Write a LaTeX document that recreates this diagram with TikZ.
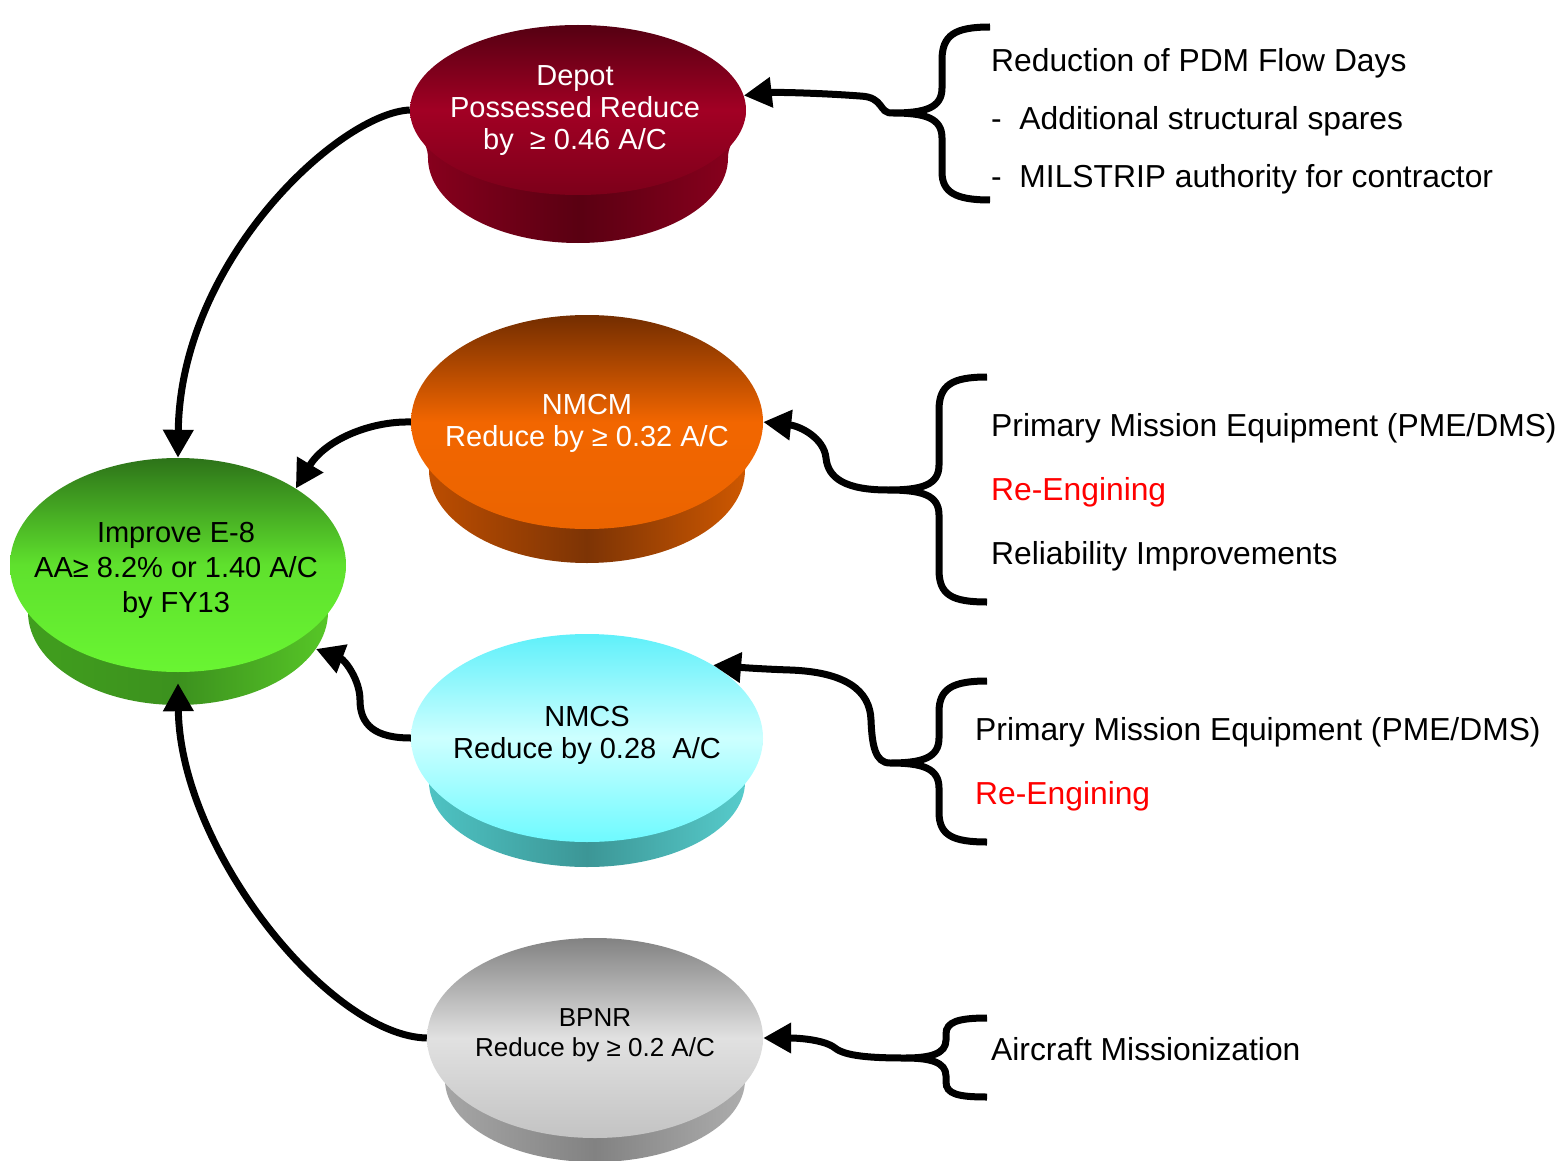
\documentclass[tikz,border=0pt]{standalone}
\usepackage{fontspec}
\setmainfont{Liberation Sans}
\usetikzlibrary{arrows.meta,shapes.geometric}
\definecolor{dtop}{RGB}{85,0,18}\definecolor{dmid}{RGB}{162,0,36}\definecolor{dbot}{RGB}{125,0,26}
\definecolor{dbl}{RGB}{140,0,30}\definecolor{dbm}{RGB}{90,0,18}
\definecolor{gtop}{RGB}{45,115,25}\definecolor{gmid}{RGB}{95,225,45}\definecolor{gbot}{RGB}{105,245,50}
\definecolor{gbl}{RGB}{65,160,30}\definecolor{gbm}{RGB}{60,145,30}\definecolor{gbr}{RGB}{90,205,40}
\definecolor{otop}{RGB}{115,45,0}\definecolor{omid}{RGB}{242,102,0}\definecolor{obot}{RGB}{235,100,0}
\definecolor{obl}{RGB}{195,80,0}\definecolor{obm}{RGB}{125,52,5}\definecolor{obr}{RGB}{215,92,0}
\definecolor{ctop}{RGB}{95,240,250}\definecolor{cmid}{RGB}{205,255,255}\definecolor{cbot}{RGB}{110,250,255}
\definecolor{cbl}{RGB}{80,200,200}\definecolor{cbm}{RGB}{60,150,150}\definecolor{cbr}{RGB}{90,210,210}
\definecolor{ktop}{RGB}{130,130,130}\definecolor{kmid}{RGB}{225,225,225}\definecolor{kbot}{RGB}{195,195,195}
\definecolor{kbl}{RGB}{170,170,170}\definecolor{kbm}{RGB}{130,130,130}\definecolor{kbr}{RGB}{178,178,178}
\definecolor{redtxt}{RGB}{255,0,0}
\begin{document}
\begin{tikzpicture}[x=1pt,y=-1pt,
  conn/.style={line width=7pt,-{Triangle[length=28pt,width=29pt]}},
  bracepath/.style={line width=7pt},
  face/.style={ellipse,inner sep=0pt,draw=none},
  lbl/.style={align=center,inner sep=0pt,font=\fontsize{29}{32}\selectfont},
  rtext/.style={anchor=base west,inner sep=0pt,font=\fontsize{31.8}{36}\selectfont},
]
\useasboundingbox (0,0) rectangle (1563,1161);

% ---------- Depot disk
\path[left color=dbl,right color=dbl,middle color=dbm]
  (410,110) .. controls (410,130) and (428,138) .. (428,158)
  arc[start angle=180,end angle=0,x radius=150,y radius=85]
  .. controls (728,138) and (746,130) .. (746,110) -- cycle;
\node[face,minimum width=336pt,minimum height=170pt,top color=dtop,bottom color=dbot,middle color=dmid] (depot) at (578,110) {};
\node[lbl,text=white] (depottext) at (575,111) {Depot\\Possessed Reduce\\by\ \ ≥ 0.46 A/C};

% ---------- Green disk
\path[left color=gbl,right color=gbr,middle color=gbm]
  (10,565) .. controls (10,585) and (28,592) .. (28,612)
  arc[start angle=180,end angle=0,x radius=150,y radius=93]
  .. controls (328,592) and (346,585) .. (346,565) -- cycle;
\node[face,minimum width=300pt,minimum height=186pt] (greenb) at (178,612) {};
\node[face,minimum width=336pt,minimum height=214pt,top color=gtop,bottom color=gbot,middle color=gmid] (green) at (178,565) {};
\node[lbl,font=\fontsize{29}{35}\selectfont] (greentext) at (176,570) {Improve E-8\\AA≥ 8.2\% or 1.40 A/C\\by FY13};

% ---------- NMCM disk
\path[left color=obl,right color=obr,middle color=obm]
  (411,422) .. controls (411,442) and (429,450) .. (429,470)
  arc[start angle=180,end angle=0,x radius=158,y radius=93]
  .. controls (745,450) and (763,442) .. (763,422) -- cycle;
\node[face,minimum width=352pt,minimum height=214pt,top color=otop,bottom color=obot,middle color=omid] (nmcm) at (587,422) {};
\node[lbl,text=white] (nmcmtext) at (587,423) {NMCM\\Reduce by ≥ 0.32 A/C};

% ---------- NMCS disk
\path[left color=cbl,right color=cbr,middle color=cbm]
  (411,738) .. controls (411,758) and (429,762) .. (429,782)
  arc[start angle=180,end angle=0,x radius=158,y radius=85]
  .. controls (745,762) and (763,758) .. (763,738) -- cycle;
\node[face,minimum width=352pt,minimum height=208pt,top color=ctop,bottom color=cbot,middle color=cmid] (nmcs) at (587,738) {};
\node[lbl] (nmcstext) at (587,735) {NMCS\\Reduce by 0.28\ \ A/C};

% ---------- BPNR disk
\path[left color=kbl,right color=kbr,middle color=kbm]
  (427,1038) .. controls (427,1058) and (445,1060) .. (445,1080)
  arc[start angle=180,end angle=0,x radius=150,y radius=82]
  .. controls (745,1060) and (763,1058) .. (763,1038) -- cycle;
\node[face,minimum width=336pt,minimum height=200pt,top color=ktop,bottom color=kbot,middle color=kmid] (bpnr) at (595,1038) {};
\node[lbl,font=\fontsize{26}{30}\selectfont] (bpnrtext) at (595,1035) {BPNR\\Reduce by ≥ 0.2 A/C};

% ---------- left connectors
\draw[conn] (depot.west) .. controls (340,113) and (180,260) .. (green.north);
\draw[conn] (nmcm.west) .. controls (370,421) and (325,440) .. (green.33);
\draw[conn] (nmcs.west) .. controls (375,738) and (360,725) .. (360,700)
  .. controls (360,680) and (345,660) .. (greenb.-15);
\draw[conn] (bpnr.west) .. controls (330,1036) and (180,850) .. ([yshift=-11pt]green.south);

% ---------- braces
\coordinate (b1) at (893,113);
\coordinate (b2) at (888,490);
\coordinate (b3) at (890,763);
\coordinate (b4) at (905,1058);

\draw[bracepath] (990,27) .. controls (955,27) and (942,35) .. (942,60) -- (942,88)
  .. controls (942,108) and (925,113) .. (b1)
  .. controls (925,113) and (942,118) .. (942,138) -- (942,172)
  .. controls (942,192) and (955,200) .. (990,200);
\draw[bracepath] (987,377) .. controls (952,377) and (939,385) .. (939,410) -- (939,465)
  .. controls (939,485) and (922,490) .. (b2)
  .. controls (922,490) and (939,495) .. (939,515) -- (939,570)
  .. controls (939,595) and (952,602) .. (987,602);
\draw[bracepath] (987,681) .. controls (952,681) and (939,689) .. (939,712) -- (939,738)
  .. controls (939,758) and (922,763) .. (b3)
  .. controls (922,763) and (939,768) .. (939,788) -- (939,812)
  .. controls (939,835) and (952,842) .. (987,842);
\draw[bracepath] (987,1018) .. controls (958,1018) and (946,1022) .. (946,1034) -- (946,1040)
  .. controls (946,1054) and (930,1058) .. (b4)
  .. controls (930,1058) and (946,1062) .. (946,1076) -- (946,1082)
  .. controls (946,1094) and (958,1097) .. (987,1097);

% ---------- right connectors
\draw[conn] (b1) .. controls (878,114) and (885,97) .. (860,96)
  .. controls (820,93) and (775,92) .. (depot.5);
\draw[conn] (b2) .. controls (845,490) and (828,478) .. (826,458)
  .. controls (824,438) and (800,426) .. (nmcm.east);
\draw[conn] (b3) .. controls (875,763) and (872,745) .. (871,720)
  .. controls (870,690) and (845,672) .. (790,670)
  .. controls (760,669) and (735,667) .. (nmcs.30);
\draw[conn] (b4) .. controls (870,1058) and (845,1056) .. (835,1048)
  .. controls (825,1040) and (800,1038) .. (bpnr.east);

% ---------- right texts
\node[rtext] (t11) at (991,72) {Reduction of PDM Flow Days};
\node[rtext] (t12) at (991,130) {-\ \ Additional structural spares};
\node[rtext] (t13) at (991,188) {-\ \ MILSTRIP authority for contractor};
\node[rtext] (t21) at (991,436) {Primary Mission Equipment (PME/DMS)};
\node[rtext,text=redtxt] (t22) at (991,500) {Re-Engining};
\node[rtext] (t23) at (991,564) {Reliability Improvements};
\node[rtext] (t31) at (975,740) {Primary Mission Equipment (PME/DMS)};
\node[rtext,text=redtxt] (t32) at (975,804) {Re-Engining};
\node[rtext] (t41) at (991,1060) {Aircraft Missionization};
\end{tikzpicture}
\end{document}
